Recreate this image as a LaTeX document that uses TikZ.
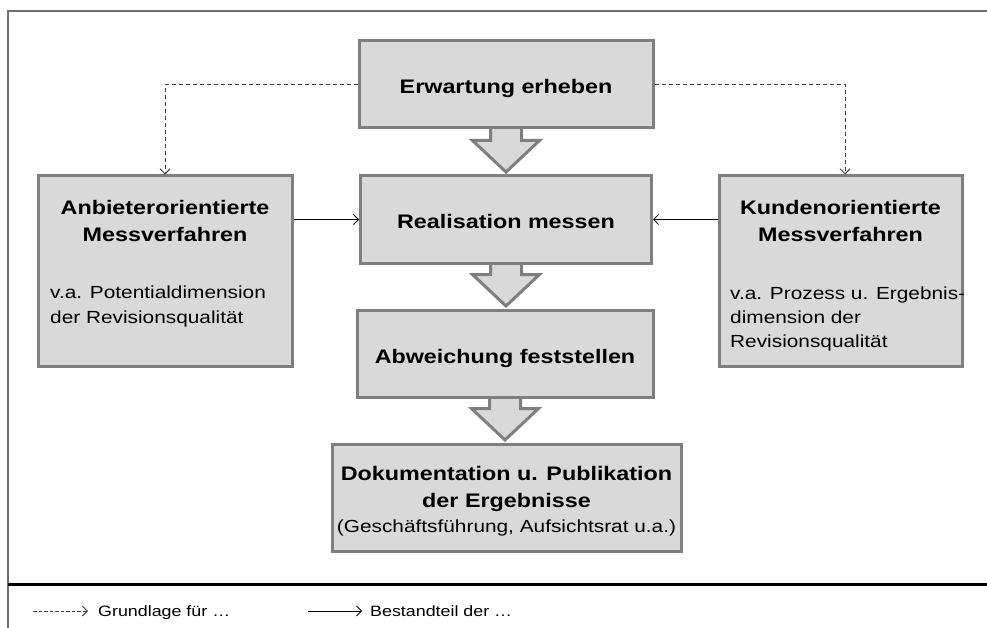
\documentclass[tikz,border=0pt]{standalone}
\usepackage{fontspec}
\setmainfont{Liberation Sans}[FakeStretch=1.19]
\usetikzlibrary{arrows.meta,calc,backgrounds}

\definecolor{boxfill}{HTML}{D9D9D9}
\definecolor{boxline}{HTML}{7F7F7F}
\definecolor{frameline}{HTML}{6F6F6F}
\definecolor{dashline}{HTML}{404040}

\begin{document}
\begin{tikzpicture}[x=1pt,y=-1pt,
  procbox/.style={draw=boxline, fill=boxfill, line width=3pt, inner sep=0pt},
  ttl/.style={font=\fontsize{19.6}{27}\selectfont\bfseries, inner sep=0pt, anchor=base},
  bodyl/.style={font=\fontsize{17.5}{25}\selectfont, inner sep=0pt, anchor=base west},
  bodyc/.style={font=\fontsize{17.5}{25}\selectfont, inner sep=0pt, anchor=base},
  flow/.style={draw=boxline, fill=boxfill, line width=3pt, line join=miter},
  basis/.style={draw=dashline, line width=1pt, dash pattern=on 4pt off 3pt,
    -{Straight Barb[length=5pt,width=10pt]}},
  part/.style={draw=black, line width=0.8pt, -{Straight Barb[length=5pt,width=10pt]}},
  legend/.style={font=\fontsize{15}{18}\selectfont, inner sep=0pt, anchor=base west}]

\useasboundingbox (0,0) rectangle (987,628);

% frame and legend separator
\coordinate (frTL) at (8,11);
\coordinate (frTR) at (987,11);
\coordinate (frBL) at (8,628);
\draw[frameline, line width=2pt] (frTR) -- (frTL) -- (frBL);
\coordinate (sepL) at (8,584.5);
\coordinate (sepR) at (987,584.5);
\draw[black, line width=2.4pt] (sepL) -- (sepR);

% process chain
\node[procbox, minimum width=294pt, minimum height=87pt] (erw) at (506,84.5) {};
\node[procbox, minimum width=291pt, minimum height=87pt] (real) at (506,219.5) {};
\node[procbox, minimum width=296pt, minimum height=87pt] (abw) at (505,353.5) {};
\node[procbox, minimum width=349pt, minimum height=107pt] (dok) at (506.5,497.5) {};

% measuring procedures
\node[procbox, minimum width=254pt, minimum height=190pt] (anb) at (165,271) {};
\node[procbox, minimum width=243pt, minimum height=190pt] (kun) at (840.5,271) {};

% texts
\node[ttl] (erwT) at (506,94) {Erwartung erheben};
\node[ttl] (realT) at (506,229) {Realisation messen};
\node[ttl] (abwT) at (505,363) {Abweichung feststellen};
\node[ttl] (dokT1) at (506.5,480) {Dokumentation u. Publikation};
\node[ttl] (dokT2) at (506.5,507) {der Ergebnisse};
\node[bodyc] (dokT3) at (506.5,532) {(Geschäftsführung, Aufsichtsrat u.a.)};

\node[ttl] (anbT1) at (165,215) {Anbieterorientierte};
\node[ttl] (anbT2) at (165,242) {Messverfahren};
\node[bodyl] (anbB1) at (50,298) {v.a. Potentialdimension};
\node[bodyl] (anbB2) at (50,323) {der Revisionsqualität};

\node[ttl] (kunT1) at (840.5,215) {Kundenorientierte};
\node[ttl] (kunT2) at (840.5,242) {Messverfahren};
\node[bodyl] (kunB1) at (730,299) {v.a. Prozess u. Ergebnis-};
\node[bodyl] (kunB2) at (730,323) {dimension der};
\node[bodyl] (kunB3) at (730,347) {Revisionsqualität};

% block arrows between the steps, behind the boxes
\newcommand{\stepflow}[2]{%
  \path let \p1=(#1.south), \p2=(#2.north) in
    [flow] (\x1-15.5pt,\y1+5pt) -- (\x1-15.5pt,\y2+34pt) -- (\x1-33.5pt,\y2+34pt)
    -- (\x1,\y2+2.5pt) -- (\x1+33.5pt,\y2+34pt) -- (\x1+15.5pt,\y2+34pt)
    -- (\x1+15.5pt,\y1+5pt) -- cycle;}
\begin{pgfonlayer}{background}
  \stepflow{erw}{real}
  \stepflow{real}{abw}
  \stepflow{abw}{dok}
\end{pgfonlayer}

% dashed: basis for the measuring procedures
\coordinate (kunIn) at ($(kun.north)+(4.5,0)$);
\draw[basis] (erw.west) -| (anb.north);
\draw[basis] (erw.east) -| (kunIn);

% solid: part of the realisation measurement
\draw[part] (real.west -| anb.east) -- (real.west);
\draw[part] (real.east -| kun.west) -- (real.east);

% legend
\coordinate (lgA1) at (33,611);
\coordinate (lgA2) at (88,611);
\draw[basis, dash pattern=on 3.5pt off 2pt] (lgA1) -- (lgA2);
\node[legend] (lgT1) at (98,616) {Grundlage für \dots};
\coordinate (lgB1) at (308,611);
\coordinate (lgB2) at (362,611);
\draw[part] (lgB1) -- (lgB2);
\node[legend] (lgT2) at (370,616) {Bestandteil der \dots};
\end{tikzpicture}
\end{document}
